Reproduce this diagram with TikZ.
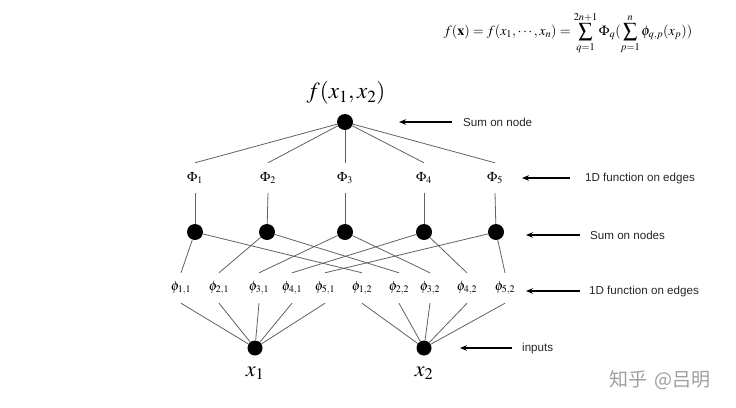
\documentclass[tikz,border=0pt]{standalone}
\usepackage{mathptmx}
\usepackage[no-math]{fontspec}
\setmainfont{Liberation Serif}
\newfontfamily\lblfont{Liberation Sans}
\newfontfamily\cjk{Noto Sans CJK SC}
\usetikzlibrary{arrows.meta}
\begin{document}
\begin{tikzpicture}[x=1pt,y=-1pt,
  dot/.style={circle,fill=black,inner sep=0pt,minimum size=16pt},
  idot/.style={circle,fill=black,inner sep=0pt,minimum size=15pt},
  lbl/.style={inner sep=0pt,minimum height=30pt,font=\fontsize{13.5}{15}\selectfont},
  edge/.style={draw=black!62,line width=0.8pt},
  note/.style={anchor=west,inner sep=0pt,font=\lblfont\fontsize{11.6}{13}\selectfont,text=black!85},
  pointer/.style={draw=black,line width=1.3pt,-{Stealth[length=7pt,width=5.5pt]}}]
\useasboundingbox (0,0) rectangle (736,407);
% formula
\node[inner sep=0pt,font=\fontsize{14}{16}\selectfont] (eq) at (568,33)
  {$\displaystyle f(\mathbf{x})=f(x_1,\cdots,x_n)=\sum_{q=1}^{2n+1}\Phi_q(\sum_{p=1}^{n}\phi_{q,p}(x_p))$};
% top
\node[dot] (t) at (345,122) {};
\node[inner sep=0pt,font=\fontsize{23}{26}\selectfont] (flab) at (346,93) {$f(x_1,x_2)$};
% Phi labels
\foreach \i/\x in {1/195,2/268,3/345,4/424,5/495}{
  \node[lbl] (P\i) at (\x,178) {$\Phi_{\i}$};
}
% middle nodes
\foreach \i/\x in {1/195,2/267,3/345,4/424,5/496}{
  \node[dot] (m\i) at (\x,232) {};
}
% phi labels
\foreach \n/\x/\lab in {a1/181/{1,1},a2/219/{2,1},a3/259/{3,1},a4/292/{4,1},a5/325/{5,1},
                        b1/362/{1,2},b2/399/{2,2},b3/430/{3,2},b4/467/{4,2},b5/505/{5,2}}{
  \node[lbl] (\n) at (\x,288) {$\phi_{\lab}$};
}
% inputs
\node[idot] (x1) at (255,348) {};
\node[idot] (x2) at (424,348) {};
\node[inner sep=0pt,font=\fontsize{22}{24}\selectfont] (x1l) at (255,373) {$x_1$};
\node[inner sep=0pt,font=\fontsize{22}{24}\selectfont] (x2l) at (424,373) {$x_2$};
% edges
\foreach \i in {1,...,5}{
  \draw[edge] (t) -- (P\i.north);
  \draw[edge] (P\i.south) -- (m\i);
  \draw[edge] (m\i) -- (a\i.north);
  \draw[edge] (m\i) -- (b\i.north);
  \draw[edge] (a\i.south) -- (x1);
  \draw[edge] (b\i.south) -- (x2);
}
% annotations
\coordinate (s1) at (452,122); \coordinate (e1) at (399,122);
\coordinate (s2) at (570,178); \coordinate (e2) at (522,178);
\coordinate (s3) at (580,235); \coordinate (e3) at (526,235);
\coordinate (s4) at (580,291); \coordinate (e4) at (526,291);
\coordinate (s5) at (512,348); \coordinate (e5) at (460,348);
\draw[pointer] (s1) -- (e1);
\draw[pointer] (s2) -- (e2);
\draw[pointer] (s3) -- (e3);
\draw[pointer] (s4) -- (e4);
\draw[pointer] (s5) -- (e5);
\node[note] (n1) at (463,122) {Sum on node};
\node[note] (n2) at (585,178) {1D function on edges};
\node[note] (n3) at (590,235) {Sum on nodes};
\node[note] (n4) at (589,291) {1D function on edges};
\node[note] (n5) at (522,348) {inputs};
% watermark
\node[inner sep=0pt,font=\cjk\fontsize{19}{21}\selectfont,text=black!38] (wm) at (660,380) {知乎\,\,@吕明};
\end{tikzpicture}
\end{document}
